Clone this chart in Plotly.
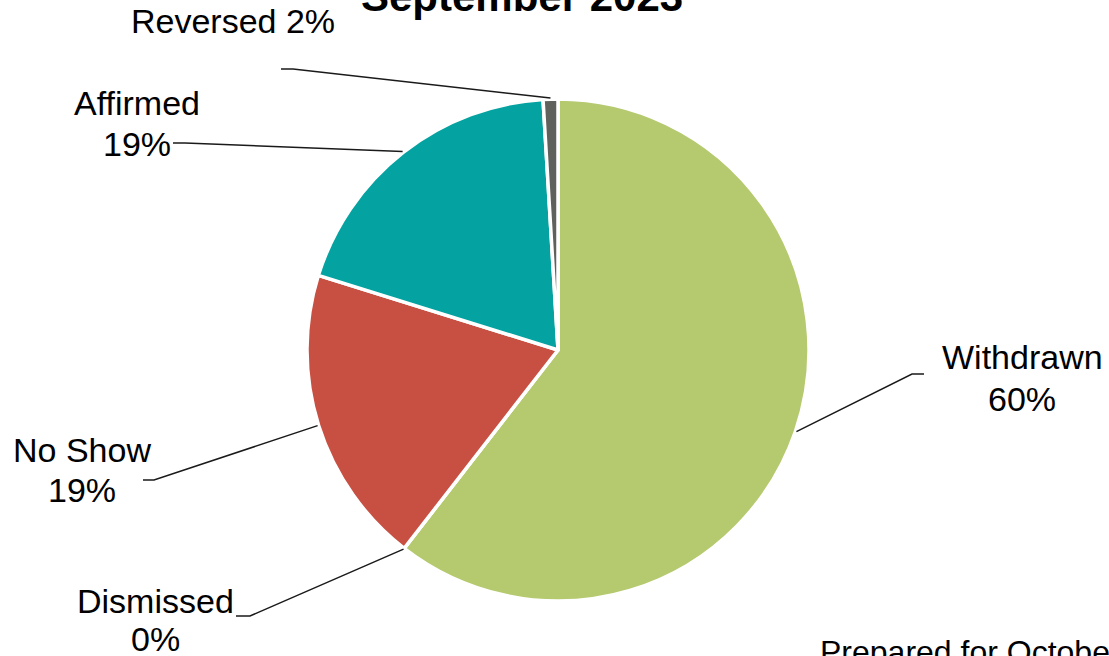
import math
import plotly.graph_objects as go

# ---- data ----
labels = ["Withdrawn", "Dismissed", "No Show", "Affirmed", "Reversed"]
values = [60.5, 0.0, 19.3, 19.25, 0.95]
pct_text = ["60%", "0%", "19%", "19%", "2%"]
colors = ["#b5c96f", "#f0a830", "#c85042", "#04a2a0", "#5f615c"]
title_text = "September 2023"
footer_text = "Prepared for October 2023"

# ---- layout constants (pixels) ----
W, H = 1109, 656
CX, CY, R = 558, 350, 251
FONT = "Liberation Sans, Arial, sans-serif"


def px(x):
    return x / W


def py(y):
    return 1 - y / H


fig = go.Figure(
    go.Pie(
        labels=labels,
        values=values,
        sort=False,
        direction="clockwise",
        rotation=0,
        marker=dict(colors=colors, line=dict(color="white", width=3.5)),
        textinfo="none",
        hoverinfo="label+percent",
        showlegend=False,
        domain=dict(x=[px(CX - R), px(CX + R)], y=[py(CY + R), py(CY - R)]),
    )
)

# label placement (pixel positions): name line, pct line, leader start & knee
label_pos = {
    "Withdrawn": dict(x=1022, y1=357, y2=399, start=(924, 374), knee=(912, 374)),
    "Dismissed": dict(x=155, y1=601, y2=639, start=(236, 616), knee=(250, 616)),
    "No Show": dict(x=82, y1=450, y2=490, start=(143, 480), knee=(154, 480)),
    "Affirmed": dict(x=137, y1=103, y2=144, start=(173, 143), knee=(185, 143)),
    "Reversed": dict(x=233, y1=21, y2=None, start=(281, 69), knee=(293, 69)),
}

total = sum(values)
cum = 0.0
annotations = []
shapes = []
for lab, val, pct in zip(labels, values, pct_text):
    mid = (cum + val / 2) / total * 2 * math.pi
    cum += val
    ex = CX + (R + 1) * math.sin(mid)
    ey = CY - (R + 1) * math.cos(mid)
    p = label_pos[lab]
    if p["y2"] is None:
        annotations.append(dict(x=px(p["x"]), y=py(p["y1"]), text=f"{lab} {pct}"))
    else:
        annotations.append(dict(x=px(p["x"]), y=py(p["y1"]), text=lab))
        annotations.append(dict(x=px(p["x"]), y=py(p["y2"]), text=pct))
    sx, sy = p["start"]
    kx, ky = p["knee"]
    shapes.append(
        dict(
            type="path",
            xref="paper",
            yref="paper",
            path=f"M {px(sx)} {py(sy)} L {px(kx)} {py(ky)} L {px(ex)} {py(ey)}",
            line=dict(color="#1a1a1a", width=1.5),
        )
    )

for a in annotations:
    a.update(
        xref="paper",
        yref="paper",
        xanchor="center",
        yanchor="middle",
        showarrow=False,
        font=dict(family=FONT, size=34, color="#000000"),
    )

annotations.append(
    dict(
        x=px(522), y=py(-3), xref="paper", yref="paper",
        xanchor="center", yanchor="middle", showarrow=False,
        text=f"<b>{title_text}</b>",
        font=dict(family=FONT, size=42, color="#000000"),
    )
)
annotations.append(
    dict(
        x=px(818), y=py(652), xref="paper", yref="paper",
        xanchor="left", yanchor="middle", showarrow=False,
        text=footer_text,
        font=dict(family=FONT, size=32, color="#000000"),
    )
)

fig.update_layout(
    width=W,
    height=H,
    margin=dict(l=0, r=0, t=0, b=0),
    paper_bgcolor="white",
    plot_bgcolor="white",
    annotations=annotations,
    shapes=shapes,
)

fig.write_html("out.html")
